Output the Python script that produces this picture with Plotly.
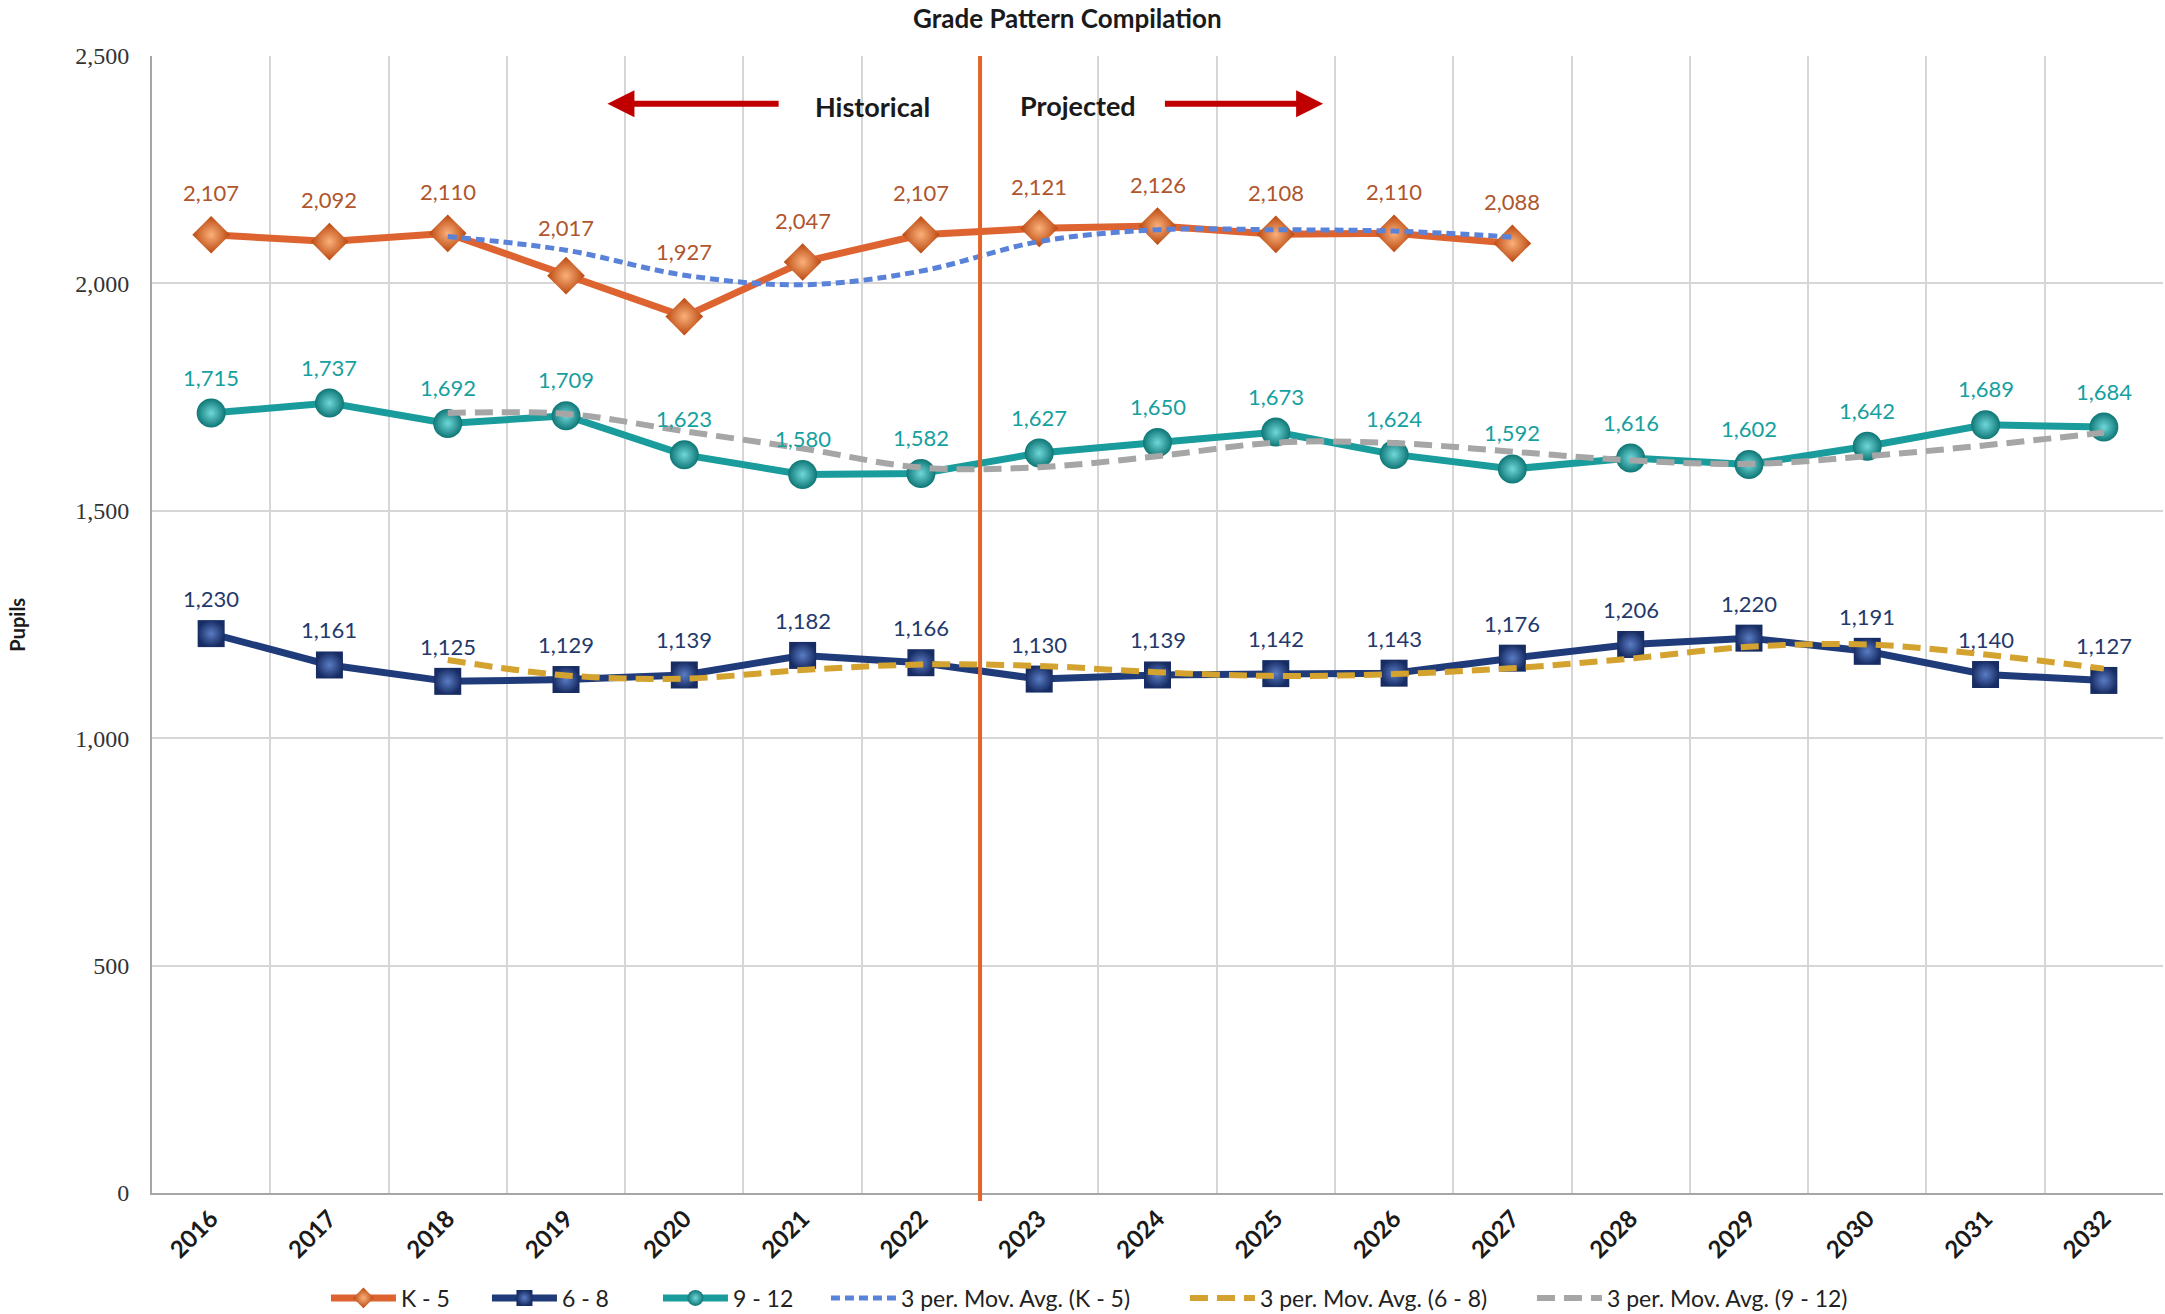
import plotly.graph_objects as go

years = ["2016", "2017", "2018", "2019", "2020", "2021", "2022", "2023", "2024",
         "2025", "2026", "2027", "2028", "2029", "2030", "2031", "2032"]

k5 = [2107, 2092, 2110, 2017, 1927, 2047, 2107, 2121, 2126, 2108, 2110, 2088]
g68 = [1230, 1161, 1125, 1129, 1139, 1182, 1166, 1130, 1139, 1142, 1143, 1176,
       1206, 1220, 1191, 1140, 1127]
g912 = [1715, 1737, 1692, 1709, 1623, 1580, 1582, 1627, 1650, 1673, 1624, 1592,
        1616, 1602, 1642, 1689, 1684]

ma_k5 = [None, None, 2103, 2073, 2018, 1997, 2027, 2092, 2118, 2118, 2115, 2102]
ma_68 = [None, None, 1172, 1138, 1131, 1150, 1162, 1159, 1145, 1137, 1141, 1154,
         1175, 1201, 1206, 1184, 1153]
ma_912 = [None, None, 1715, 1713, 1675, 1637, 1595, 1596, 1620, 1650, 1649, 1630,
          1611, 1603, 1620, 1644, 1672]

# label vertical offsets (px) for K-5 (one label moved up in the original)
k5_shift = [42, 42, 42, 48, 65, 42, 42, 42, 42, 42, 42, 42]

C_K5 = "#DD6431"
C_K5_TXT = "#B0552C"
C_68 = "#1F3B7A"
C_68_TXT = "#24396B"
C_912 = "#1A9C9C"
C_912_TXT = "#16A0A0"
C_MA_K5 = "#5A82D8"
C_MA_68 = "#D4A22F"
C_MA_912 = "#A6A6A6"
GRID = "#D6D6D6"

fig = go.Figure()

fig.add_trace(go.Scatter(
    x=years[:len(k5)], y=k5, name="K - 5", mode="lines+markers", legendwidth=81,
    line=dict(color=C_K5, width=7),
    marker=dict(symbol="diamond", size=29, color="#B9470E",
                gradient=dict(type="radial", color="#FBB07A"),
                line=dict(width=0)),
))
fig.add_trace(go.Scatter(
    x=years, y=g68, name="6 - 8", mode="lines+markers", legendwidth=91,
    line=dict(color=C_68, width=7),
    marker=dict(symbol="square", size=27, color="#172C63",
                gradient=dict(type="radial", color="#5A7CC4"),
                line=dict(width=0)),
))
fig.add_trace(go.Scatter(
    x=years, y=g912, name="9 - 12", mode="lines+markers", legendwidth=88,
    line=dict(color=C_912, width=7),
    marker=dict(symbol="circle", size=29, color="#0F7676",
                gradient=dict(type="radial", color="#6FD8D8"),
                line=dict(width=0)),
))
fig.add_trace(go.Scatter(
    x=years[:len(ma_k5)], y=ma_k5, name="3 per. Mov. Avg. (K - 5)", mode="lines",
    legendwidth=279,
    line=dict(color=C_MA_K5, width=5, dash="9px,5px", shape="spline"),
))
fig.add_trace(go.Scatter(
    x=years, y=ma_68, name="3 per. Mov. Avg. (6 - 8)", mode="lines",
    legendwidth=267,
    line=dict(color=C_MA_68, width=6, dash="18px,9px", shape="spline"),
))
fig.add_trace(go.Scatter(
    x=years, y=ma_912, name="3 per. Mov. Avg. (9 - 12)", mode="lines",
    line=dict(color=C_MA_912, width=6, dash="18px,9px", shape="spline"),
))

annotations = []
lab_font = "Lato"
for i, v in enumerate(k5):
    annotations.append(dict(x=i, y=v, text=f"{v:,}", showarrow=False,
                            yshift=k5_shift[i], font=dict(family=lab_font, size=22, color=C_K5_TXT)))
for i, v in enumerate(g68):
    annotations.append(dict(x=i, y=v, text=f"{v:,}", showarrow=False,
                            yshift=35, font=dict(family=lab_font, size=22, color=C_68_TXT)))
for i, v in enumerate(g912):
    annotations.append(dict(x=i, y=v, text=f"{v:,}", showarrow=False,
                            yshift=36, font=dict(family=lab_font, size=22, color=C_912_TXT)))

# Historical / Projected markers
annotations.append(dict(x=3.35, y=2395, ax=4.81, ay=2395, xref="x", yref="y",
                        axref="x", ayref="y", text="", showarrow=True,
                        arrowhead=2, arrowsize=0.9, arrowwidth=6, arrowcolor="#C00000"))
annotations.append(dict(x=9.4, y=2395, ax=8.05, ay=2395, xref="x", yref="y",
                        axref="x", ayref="y", text="", showarrow=True,
                        arrowhead=2, arrowsize=0.9, arrowwidth=6, arrowcolor="#C00000"))
annotations.append(dict(x=5.59, y=2389, text="Historical", showarrow=False,
                        font=dict(family="Lato", size=27, color="#1A1A1A", weight="bold")))
annotations.append(dict(x=7.33, y=2391, text="Projected", showarrow=False,
                        font=dict(family="Lato", size=27, color="#1A1A1A", weight="bold")))
annotations.append(dict(x=-0.0745, y=0.5, xref="paper", yref="paper", text="Pupils",
                        textangle=-90, showarrow=False,
                        font=dict(family="Lato", size=20, color="#1A1A1A", weight="bold")))

fig.update_layout(
    width=2165, height=1314,
    margin=dict(l=152, r=2, t=56, b=121, autoexpand=False),
    paper_bgcolor="white", plot_bgcolor="white",
    title=dict(text="Grade Pattern Compilation", x=0.493, xref="container",
               y=1 - 19 / 1314, yref="container", xanchor="center", yanchor="middle",
               font=dict(family="Lato", size=26, color="#1A1A1A", weight="bold")),
    showlegend=True,
    legend=dict(orientation="h", x=0.0865, xanchor="left",
                y=-0.0923, yanchor="middle",
                font=dict(family="Lato", size=23, color="#222222"),
                itemwidth=65, tracegroupgap=0),
    annotations=annotations,
    shapes=[dict(type="line", xref="x", yref="paper", x0=6.5, x1=6.5, y0=-0.007, y1=1,
                 opacity=1, line=dict(color="#E2642A", width=4), layer="above")],
)

fig.update_xaxes(
    type="category", range=[-0.5, 16.5], tickson="boundaries",
    showgrid=True, gridcolor=GRID, gridwidth=1.5,
    showline=True, linecolor="#A6A6A6", linewidth=2, ticks="",
    tickangle=-45, tickfont=dict(family="Lato", size=24, color="#1A1A1A", weight="bold"),
)
fig.update_yaxes(
    range=[0, 2500], dtick=500, tickformat=",",
    showgrid=True, gridcolor=GRID, gridwidth=1.5, zeroline=False,
    showline=True, linecolor="#A6A6A6", linewidth=2, ticks="",
    ticklabelstandoff=16,
    tickfont=dict(family="Liberation Serif", size=24, color="#333333"),
)

fig.write_html("out.html", config={"displayModeBar": False},
               post_script="document.body.style.margin='0';")
